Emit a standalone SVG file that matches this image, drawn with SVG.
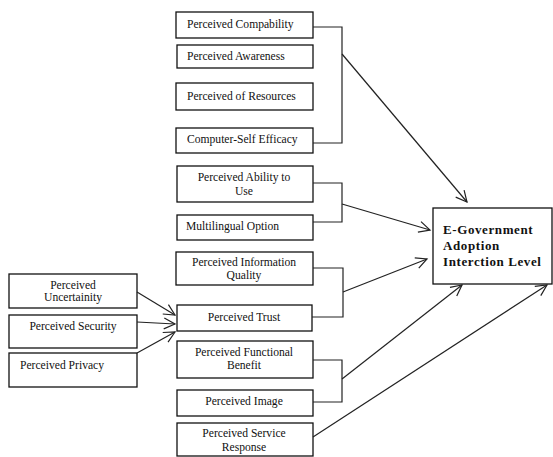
<svg xmlns="http://www.w3.org/2000/svg" width="553" height="457" viewBox="0 0 553 457">
<defs>
<style>
.b{fill:#fff;stroke:#111;stroke-width:1.3}
.t{font-family:"Liberation Serif",serif;font-size:11.6px;fill:#111}
.c{text-anchor:middle}
.h{font-family:"Liberation Serif",serif;font-size:13px;font-weight:bold;fill:#111;letter-spacing:0.6px}
.l{fill:none;stroke:#222;stroke-width:1.2}
</style>
<marker id="a" markerWidth="14" markerHeight="14" refX="12" refY="7" orient="auto" markerUnits="userSpaceOnUse">
<path d="M1,1.5 L12,7 L1,12.5" fill="none" stroke="#222" stroke-width="1.2"/>
</marker>
</defs>
<rect width="553" height="457" fill="#fff"/>
<g id="n1"><rect class="b" x="176" y="12" width="137" height="26"/><text class="t" x="187" y="28">Perceived Compability</text></g>
<g id="n2"><rect class="b" x="177" y="45" width="136" height="23"/><text class="t" x="187" y="60">Perceived Awareness</text></g>
<g id="n3"><rect class="b" x="176" y="83" width="137" height="27"/><text class="t" x="187" y="100">Perceived of Resources</text></g>
<g id="n4"><rect class="b" x="176" y="128" width="137" height="25"/><text class="t" x="187" y="143">Computer-Self Efficacy</text></g>
<g id="n5"><rect class="b" x="177" y="166" width="136" height="36"/><text class="t c" x="244" y="181">Perceived Ability to</text><text class="t c" x="244" y="195">Use</text></g>
<g id="n6"><rect class="b" x="177" y="215" width="136" height="25"/><text class="t" x="186" y="230">Multilingual Option</text></g>
<g id="n7"><rect class="b" x="176" y="252" width="137" height="33"/><text class="t c" x="244" y="266">Perceived Information</text><text class="t c" x="244" y="279">Quality</text></g>
<g id="n8"><rect class="b" x="177" y="305" width="135" height="26"/><text class="t c" x="244" y="321">Perceived Trust</text></g>
<g id="n9"><rect class="b" x="177" y="341" width="136" height="37"/><text class="t c" x="244" y="356">Perceived Functional</text><text class="t c" x="244" y="369">Benefit</text></g>
<g id="n10"><rect class="b" x="177" y="390" width="136" height="26"/><text class="t c" x="244" y="405">Perceived Image</text></g>
<g id="n11"><rect class="b" x="177" y="423" width="136" height="33"/><text class="t c" x="244" y="437">Perceived Service</text><text class="t c" x="244" y="451">Response</text></g>
<g id="l1"><rect class="b" x="9" y="274" width="128" height="34"/><text class="t c" x="73" y="289">Perceived</text><text class="t c" x="73" y="301">Uncertainity</text></g>
<g id="l2"><rect class="b" x="9" y="315" width="128" height="33"/><text class="t c" x="73" y="330">Perceived Security</text></g>
<g id="l3"><rect class="b" x="9" y="353" width="128" height="34"/><text class="t" x="20" y="369">Perceived Privacy</text></g>
<g id="target"><rect class="b" x="433" y="208" width="119" height="76"/><text class="h" x="443" y="234">E-Government</text><text class="h" x="443" y="250">Adoption</text><text class="h" x="443" y="266">Interction Level</text></g>
<g id="connectors">
<path class="l" d="M313,27 H342 V143 H313"/>
<path class="l" d="M342,54 L467,202" marker-end="url(#a)"/>
<path class="l" d="M313,183 H342 V222 H313"/>
<path class="l" d="M342,204 L430,230" marker-end="url(#a)"/>
<path class="l" d="M313,268 H343 V317 H312"/>
<path class="l" d="M343,292 L427,259" marker-end="url(#a)"/>
<path class="l" d="M313,360 H342 V402 H313"/>
<path class="l" d="M342,379 L462,285" marker-end="url(#a)"/>
<path class="l" d="M313,437 L547,285" marker-end="url(#a)"/>
<path class="l" d="M137,292 L175,315" marker-end="url(#a)"/>
<path class="l" d="M137,322 L175,324" marker-end="url(#a)"/>
<path class="l" d="M137,353 L175,332" marker-end="url(#a)"/>
</g>
</svg>
